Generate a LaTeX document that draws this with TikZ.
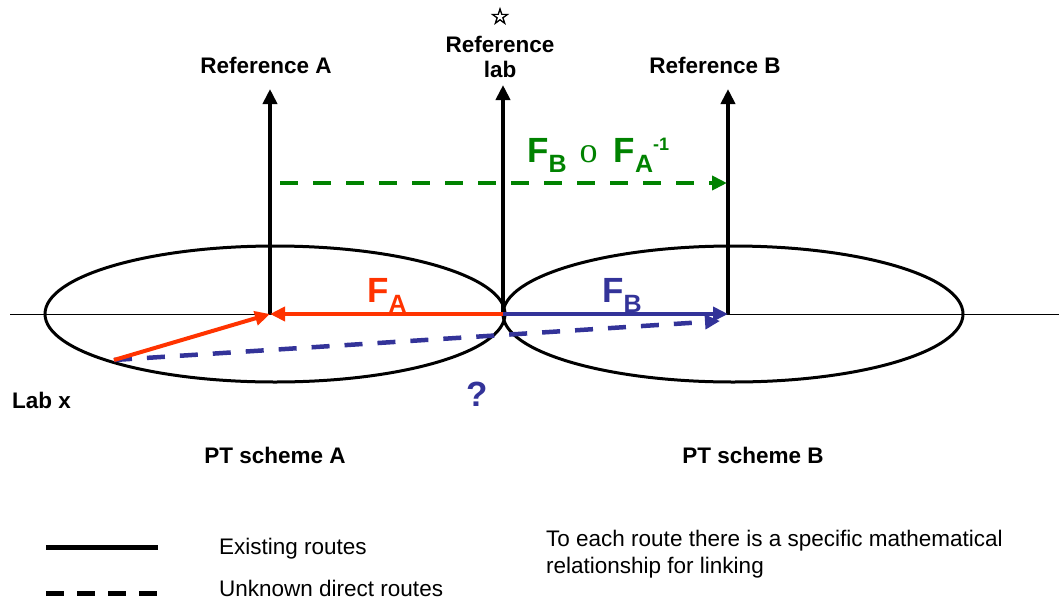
\documentclass[tikz,border=0pt]{standalone}
\usepackage{fontspec}
\setmainfont{Liberation Sans}
\newfontfamily\serifo{Liberation Serif}
\newfontface\starfont[FakeBold=3]{DejaVu Sans}
\usetikzlibrary{arrows.meta}
\definecolor{myred}{RGB}{255,51,0}
\definecolor{myblue}{RGB}{51,51,153}
\definecolor{mygreen}{RGB}{0,130,0}
\newcommand\mysubb[1]{\raisebox{-0.3em}{\fontsize{25}{28}\selectfont #1}}
\newcommand\mysupp[1]{\raisebox{0.32em}{\fontsize{18}{20}\selectfont #1}}
\begin{document}
\begin{tikzpicture}[x=1pt,y=-1pt,
  lbl/.style={font=\fontsize{22.5}{25}\selectfont\bfseries, inner sep=0pt},
  txt/.style={font=\fontsize{22.5}{27}\selectfont, inner sep=0pt, anchor=west, align=left},
  big/.style={font=\fontsize{35}{38}\selectfont\bfseries, inner sep=0pt},
  tip/.style={-{Triangle[length=15pt,width=14pt]}},
  refline/.style={line width=4pt, tip},
  ell/.style={line width=3pt},
  redarr/.style={draw=myred, line width=4pt, tip},
  bluearr/.style={draw=myblue, line width=4pt, tip},
  dash pat/.style={dash pattern=on 18pt off 15pt},
]
\useasboundingbox (0,0) rectangle (1059,600);

% axis
\draw[line width=0.8pt] (10,314) -- (1059,314);

% ellipses
\draw[ell] (275,314) ellipse [x radius=230pt, y radius=68pt];
\draw[ell] (733,314) ellipse [x radius=230pt, y radius=68pt];

% coordinates
\coordinate (A) at (270,314);
\coordinate (O) at (503,314);
\coordinate (B) at (728,314);
\coordinate (X) at (114,360);
\coordinate (Atop) at (270,89);
\coordinate (Otop) at (503,85);
\coordinate (Btop) at (728,89);
\coordinate (Gs) at (280,183);
\coordinate (Ge) at (727,183);
\coordinate (Bd) at (720,321);

% vertical reference arrows
\draw[refline] (A) -- (Atop);
\draw[refline] (O) -- (Otop);
\draw[refline] (B) -- (Btop);

% labels
\node[lbl] (refA) at (266,65) {Reference A};
\node[lbl, align=center, font=\fontsize{22.5}{25}\selectfont\bfseries] (refL) at (500,57) {Reference\\lab};
\node[inner sep=0pt, font=\starfont\fontsize{22}{22}\selectfont] (star) at (500,16) {☆};
\node[lbl] (refB) at (715,65) {Reference B};

% green composite route
\draw[draw=mygreen, line width=4.5pt, dash pat, tip] (Gs) -- (Ge);
\node[big, text=mygreen, anchor=base west] (FBA) at (527,162) {F\mysubb{B}\hspace{13pt}{\serifo\mdseries\fontsize{36}{38}\selectfont o}\hspace{16pt}F\mysubb{A}\mysupp{-1}};

% F_A and F_B
\draw[redarr] (O) -- (A);
\node[big, text=myred, anchor=base west] (FA) at (367,302) {F\mysubb{A}};
\draw[bluearr] (O) -- (B);
\node[big, text=myblue, anchor=base west] (FB) at (602,302) {F\mysubb{B}};

% lab x routes
\draw[draw=myblue, line width=4.5pt, dash pat, tip] (X) -- (Bd);
\draw[redarr] (X) -- (A);

\node[big, text=myblue] (q) at (477,394) {?};
\node[lbl, anchor=west] (labx) at (12,400) {Lab x};

\node[lbl] (PTA) at (275,455) {PT scheme A};
\node[lbl] (PTB) at (753,455) {PT scheme B};

% legend
\coordinate (L1a) at (46,547);
\coordinate (L1b) at (158,547);
\coordinate (L2a) at (46,593);
\coordinate (L2b) at (158,593);
\draw[line width=5pt] (L1a) -- (L1b);
\draw[line width=5pt, dash pattern=on 18pt off 13pt] (L2a) -- (L2b);
\node[txt] (t1) at (219,549) {Existing routes};
\node[txt] (t2) at (219,588) {Unknown direct routes};
\node[txt, anchor=north west] (t3) at (546,530) {To each route there is a specific mathematical\\relationship for linking};
\end{tikzpicture}
\end{document}
